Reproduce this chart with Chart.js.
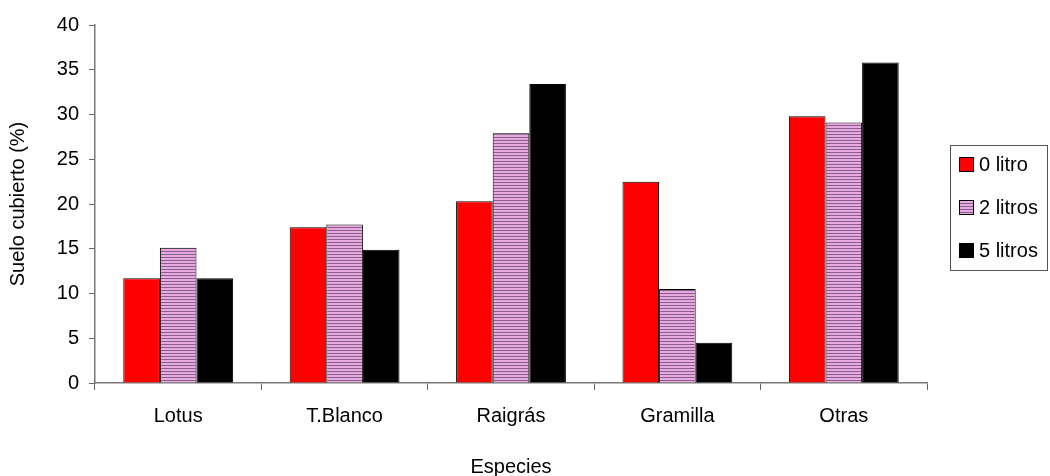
<!DOCTYPE html>
<html>
<head>
<meta charset="utf-8">
<script src="https://cdn.jsdelivr.net/npm/chart.js@4/dist/chart.umd.min.js"></script>
<style>
  body { margin: 0; background: #fff; }
  canvas { display: block; }
</style>
</head>
<body>
<canvas id="cubiertoChart" width="1050" height="476"></canvas>
<script>
// Data
const especies = ["Lotus", "T.Blanco", "Raigrás", "Gramilla", "Otras"];
const cero = [11.7, 17.4, 20.3, 22.5, 29.8];
const dos = [15.1, 17.7, 27.9, 10.5, 29.1];
const cinco = [11.7, 14.9, 33.4, 4.5, 35.8];
const seriesLabels = ["0 litro", "2 litros", "5 litros"];
const yTicks = [0, 5, 10, 15, 20, 25, 30, 35, 40];

const FONT = "'Liberation Sans', Arial, sans-serif";

document.addEventListener("DOMContentLoaded", () => {
  const canvas = document.getElementById("cubiertoChart");

  // striped pink fill used for "2 litros"
  function stripePattern() {
    const c = document.createElement("canvas");
    c.width = 4;
    c.height = 3;
    const g = c.getContext("2d");
    g.fillStyle = "#e8a8e0";
    g.fillRect(0, 0, 4, 2);
    g.fillStyle = "#86608a";
    g.fillRect(0, 2, 4, 1);
    return canvas.getContext("2d").createPattern(c, "repeat");
  }
  const stripes = stripePattern();
  const fills = ["#ff0000", stripes, "#000000"];

  // Boxed legend on the right, like the original
  const boxLegend = {
    id: "boxLegend",
    afterDraw(chart) {
      const ctx = chart.ctx;
      ctx.save();
      ctx.strokeStyle = "#555";
      ctx.lineWidth = 1;
      ctx.strokeRect(950.5, 145.5, 97, 125);
      ctx.font = "20px " + FONT;
      ctx.textBaseline = "middle";
      seriesLabels.forEach((lab, i) => {
        const y = 164 + i * 43;
        ctx.fillStyle = fills[i];
        ctx.fillRect(959, y - 7, 15, 15);
        ctx.strokeStyle = "#000";
        ctx.strokeRect(959.5, y - 6.5, 14, 14);
        ctx.fillStyle = "#000";
        ctx.fillText(lab, 979, y + 1);
      });
      ctx.restore();
    }
  };

  const datasets = [cero, dos, cinco].map((vals, i) => ({
    label: seriesLabels[i],
    data: vals,
    backgroundColor: fills[i],
    borderColor: "#000",
    borderWidth: 1,
    categoryPercentage: 0.66,
    barPercentage: 1.0
  }));

  new Chart(canvas, {
    type: "bar",
    data: { labels: especies, datasets },
    plugins: [boxLegend],
    options: {
      responsive: false,
      animation: false,
      layout: { padding: { top: 25, right: 123, left: 0, bottom: 0 } },
      plugins: { legend: { display: false }, tooltip: { enabled: false } },
      scales: {
        x: {
          grid: { offset: true, drawOnChartArea: false, tickLength: 7, color: "#666" },
          border: { color: "#777", width: 1.5 },
          ticks: { color: "#000", font: { family: FONT, size: 20 }, padding: 14 },
          title: { display: true, text: "Especies", color: "#000", font: { family: FONT, size: 20 }, padding: { top: 20, bottom: -3 } },
          afterFit(scale) { scale.height = 93; }
        },
        y: {
          min: 0,
          max: 40,
          afterBuildTicks(scale) { scale.ticks = yTicks.map(v => ({ value: v })); },
          grid: { drawOnChartArea: false, tickLength: 6, color: "#666" },
          border: { color: "#777", width: 1.5 },
          ticks: { color: "#000", font: { family: FONT, size: 20 }, padding: 10 },
          title: { display: true, text: "Suelo cubierto (%)", color: "#000", font: { family: FONT, size: 20 }, padding: { top: 6, bottom: 0 } },
          afterFit(scale) { scale.width = 95; }
        }
      }
    }
  });
});
</script>
</body>
</html>
